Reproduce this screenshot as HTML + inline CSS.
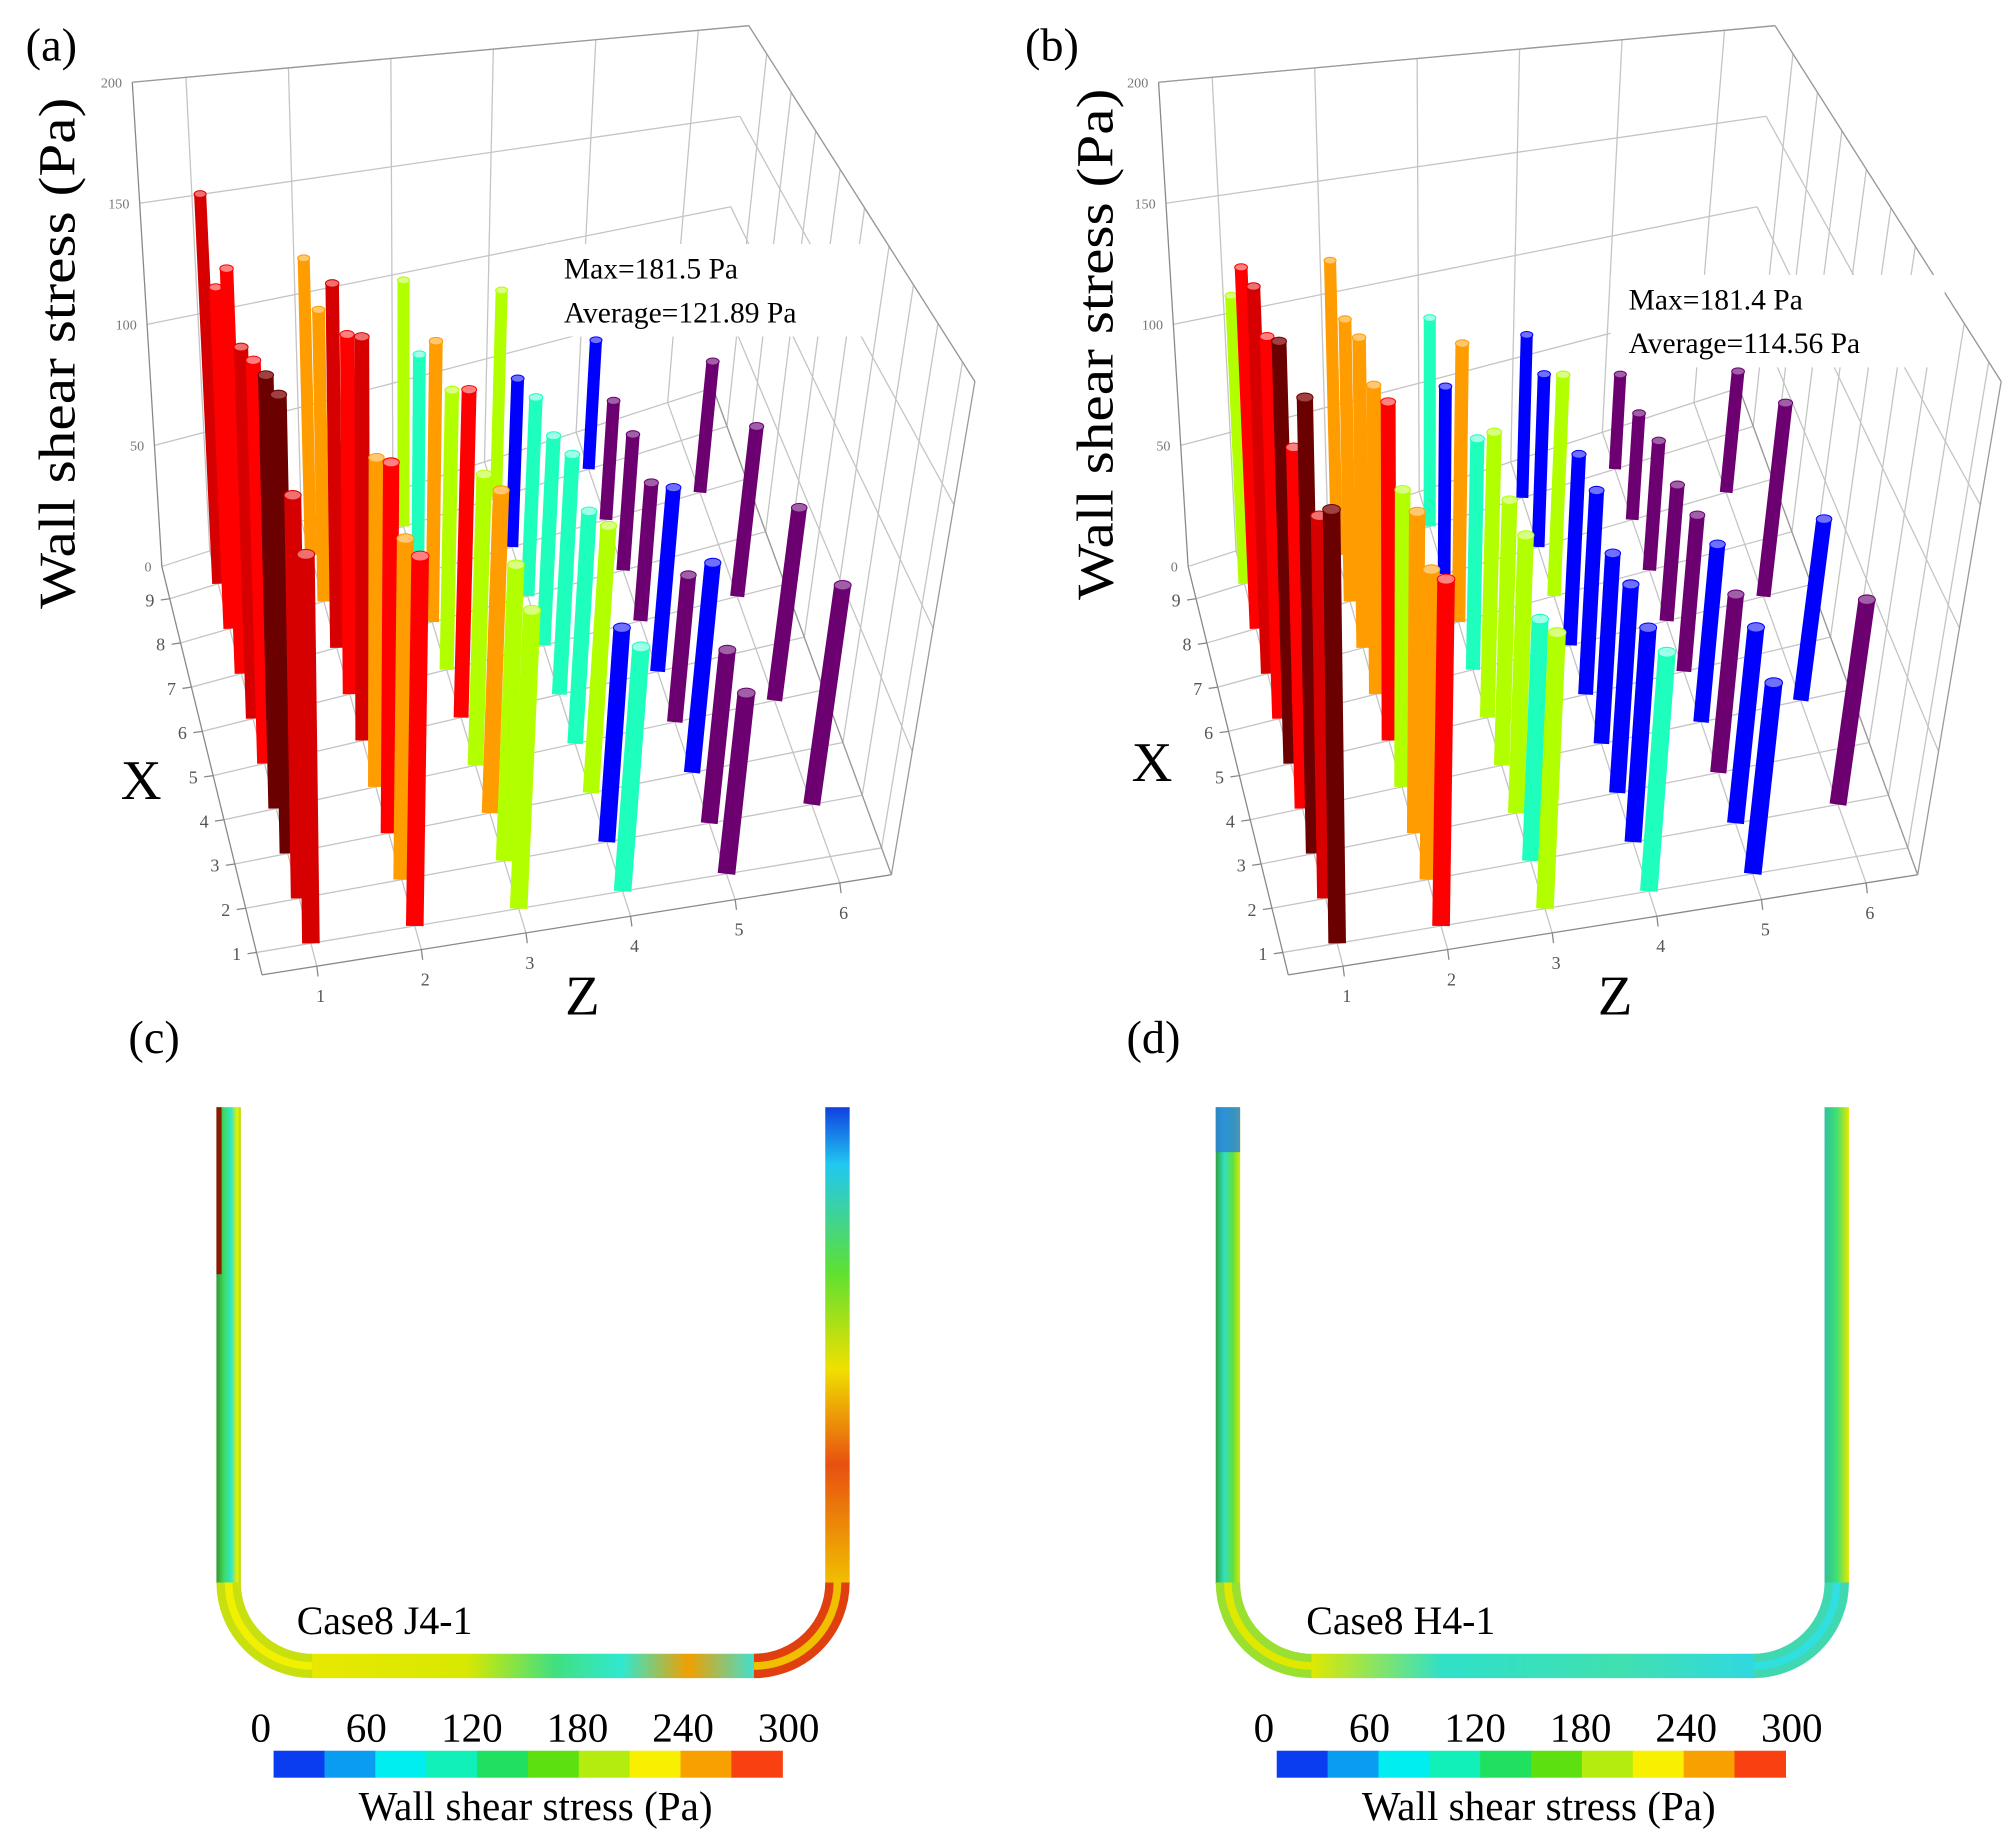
<!DOCTYPE html>
<html><head><meta charset="utf-8">
<style>
html,body{margin:0;padding:0;background:#fff;overflow:hidden;}
svg{display:block;font-family:"Liberation Serif",serif;}
</style></head>
<body>
<svg id="fig" width="2014" height="1845" viewBox="0 0 1568 1436.4" preserveAspectRatio="none" xmlns="http://www.w3.org/2000/svg">
<defs>
<linearGradient id="gcL" x1="0" x2="1" y1="0" y2="0"><stop offset="0" stop-color="#2e9a2e"/><stop offset="0.3" stop-color="#40d860"/><stop offset="0.6" stop-color="#30e8c8"/><stop offset="0.85" stop-color="#e8f000"/><stop offset="1" stop-color="#b8d800"/></linearGradient>
<linearGradient id="gcR" x1="0" x2="0" y1="0" y2="1"><stop offset="0" stop-color="#1040e0"/><stop offset="0.12" stop-color="#20c8f0"/><stop offset="0.35" stop-color="#60e030"/><stop offset="0.55" stop-color="#f0e000"/><stop offset="0.75" stop-color="#e85010"/><stop offset="1" stop-color="#f0c000"/></linearGradient>
<linearGradient id="gcB" x1="0" x2="1" y1="0" y2="0"><stop offset="0" stop-color="#e8e800"/><stop offset="0.35" stop-color="#d8e800"/><stop offset="0.55" stop-color="#40e080"/><stop offset="0.7" stop-color="#30e8d0"/><stop offset="0.85" stop-color="#f0a000"/><stop offset="1" stop-color="#40e0d0"/></linearGradient>
<linearGradient id="gdL" x1="0" x2="1" y1="0" y2="0"><stop offset="0" stop-color="#30a040"/><stop offset="0.35" stop-color="#30e0c0"/><stop offset="0.7" stop-color="#60e040"/><stop offset="1" stop-color="#d8e800"/></linearGradient>
<linearGradient id="gdR" x1="0" x2="1" y1="0" y2="0"><stop offset="0" stop-color="#30c0a0"/><stop offset="0.5" stop-color="#40e070"/><stop offset="1" stop-color="#e8e800"/></linearGradient>
<linearGradient id="gdB" x1="0" x2="1" y1="0" y2="0"><stop offset="0" stop-color="#e0e800"/><stop offset="0.3" stop-color="#30e0c8"/><stop offset="0.7" stop-color="#40e0b0"/><stop offset="1" stop-color="#30d8e0"/></linearGradient>
</defs>
<g id="layer"></g>
</svg>
<script>
// ---- data ----
const zCats = [1,2,3,4,5,6];
const xCats = [1,2,3,4,5,6,7,8,9];
const valueTicks = [0,50,100,150,200];
const A_z1 = [130,138,161,156,149,141,158,137,161];
const A_z2 = [128,121,135,123,155,142,148,122,128];
const A_z3 = [107,109,122,113,131,115,119,96,111];
const A_z4 = [91,82,105,94,100,90,88,77,98];
const A_z5 = [70,69,86,62,80,62,63,57,64];
const A_z6 = [null,91,null,85,null,80,null,66,null];
const B_z1 = [145,131,160,130,156,145,151,145,119];
const B_z2 = [120,110,117,111,130,122,126,118,127];
const B_z3 = [99,89,105,103,114,95,118,82,94];
const B_z4 = [89,82,82,77,85,82,98,79,77];
const B_z5 = [74,78,73,75,68,61,60,51,47];
const B_z6 = [null,85,null,80,null,91,null,61,null];
const A_c1 = ['dr','dr','mr','mr','r','dr','r','r','dr'];
const A_c2 = ['r','o','r','o','dr','r','dr','o','o'];
const A_c3 = ['y','y','o','y','r','y','o','c','y'];
const A_c4 = ['c','b','y','c','c','c','c','b','y'];
const A_c5 = ['p','p','b','p','b','p','p','p','b'];
const A_c6 = ['p','p','p','p','p','p','p','p','p'];
const B_c1 = ['mr','dr','mr','r','mr','r','dr','r','y'];
const B_c2 = ['r','o','o','y','r','o','o','o','o'];
const B_c3 = ['y','c','y','y','y','c','o','b','c'];
const B_c4 = ['c','b','b','b','b','b','y','b','b'];
const B_c5 = ['b','b','p','b','p','p','p','p','p'];
const B_c6 = ['p','p','p','b','p','p','p','p','p'];
const colorbarTicks = [0,60,120,180,240,300];
const colorbarColors = ['#0a3cf0','#0a9cf0','#00eef0','#10f0b8','#20e060','#5ce010','#b4ec10','#f8f000','#f8a000','#f84010'];

const PAL = {r:['#ff0000','#ff8080'], dr:['#d60000','#f07070'], mr:['#6a0000','#a04040'], o:['#ff9c00','#ffc870'], y:['#b2ff00','#d8ff80'], c:['#1effbe','#a0ffe8'], b:['#0000ff','#7070ff'], p:['#6c0070','#a060a8']};
const NS = 'http://www.w3.org/2000/svg';
const layer = document.getElementById('layer');
function mk(tag, attrs, parent){ const e=document.createElementNS(NS,tag); for(const k in attrs) e.setAttribute(k,attrs[k]); (parent||layer).appendChild(e); return e; }

const BL=[126,441], BR=[555,302], FR=[694,681], FL=[204,759];
const vBL=[-23,-377], vBR=[28,-282], vFR=[65,-384], vFL=[-12,-480];
function bil(a,b,c,d,s,t){ return [(1-s)*(1-t)*a[0]+s*(1-t)*b[0]+s*t*c[0]+(1-s)*t*d[0], (1-s)*(1-t)*a[1]+s*(1-t)*b[1]+s*t*c[1]+(1-s)*t*d[1]]; }
function sOf(z){ return 0.087+(z-1)*0.1662; }
function tOf(x){ return 0.079+(9-x)*0.10825; }
function proj(s,t,val,ox){ const f=bil(BL,BR,FR,FL,s,t), v=bil(vBL,vBR,vFR,vFL,s,t); return [f[0]+ox+v[0]*val/200, f[1]+v[1]*val/200]; }

function drawPanel(ox, rows, cols, info, pname){
  const g = mk('g',{});
  
  
  const grid = mk('g',{stroke:'#c4c4c4','stroke-width':'1',fill:'none'},g);
  
  
  function ln(p,q,col,w){ mk('line',{x1:p[0],y1:p[1],x2:q[0],y2:q[1],stroke:col||'#c4c4c4','stroke-width':w||1},grid); }
  valueTicks.forEach(v=>ln(proj(0,0,v,ox),proj(1,0,v,ox)));
  zCats.forEach(z=>ln(proj(sOf(z),0,0,ox),proj(sOf(z),0,200,ox)));
  valueTicks.forEach(v=>ln(proj(1,0,v,ox),proj(1,1,v,ox)));
  xCats.forEach(x=>ln(proj(1,tOf(x),0,ox),proj(1,tOf(x),200,ox)));
  xCats.forEach(x=>ln(proj(0,tOf(x),0,ox),proj(1,tOf(x),0,ox)));
  zCats.forEach(z=>ln(proj(sOf(z),0,0,ox),proj(sOf(z),1,0,ox)));
  ln(proj(0,0,0,ox),proj(0,0,200,ox),'#888');
  ln(proj(0,0,200,ox),proj(1,0,200,ox),'#999');
  ln(proj(1,0,200,ox),proj(1,1,200,ox),'#999');
  ln(proj(1,1,0,ox),proj(1,1,200,ox),'#999');
  ln(proj(0,0,0,ox),proj(0,1,0,ox),'#888');
  ln(proj(0,1,0,ox),proj(1,1,0,ox),'#888');
  ln(proj(1,0,0,ox),proj(1,1,0,ox),'#999');
  valueTicks.forEach(v=>{ const p=proj(0,0,v,ox);
    const t=mk('text',{x:p[0]-8,y:p[1]+4,'font-size':11,fill:'#777','text-anchor':'end'},g); t.textContent=v;
      });
  xCats.forEach(x=>{ const p=proj(0,tOf(x),0,ox);
    ln(p,[p[0]-7,p[1]+1],'#888');
    const t=mk('text',{x:p[0]-12,y:p[1]+6,'font-size':14,fill:'#555','text-anchor':'end'},g); t.textContent=x;
      });
  zCats.forEach(z=>{ const p=proj(sOf(z),1,0,ox);
    ln(p,[p[0]+1,p[1]+8],'#888');
    const t=mk('text',{x:p[0]+3,y:p[1]+28,'font-size':14,fill:'#555','text-anchor':'middle'},g); t.textContent=z;
      });
  const ib = mk('rect',{x:info.x,y:info.y,width:info.w,height:info.h,fill:'#fff'},g);
   
  const t1=mk('text',{x:info.x+14,y:info.y+27,'font-size':23,fill:'#000'},g); t1.textContent=info.l1;
   
  const t2=mk('text',{x:info.x+14,y:info.y+61,'font-size':23,fill:'#000'},g); t2.textContent=info.l2;
   
  const bars=[];
  rows.forEach((vals,zi)=>vals.forEach((v,xi)=>{ if(v!==null) bars.push({z:zCats[zi],x:xCats[xi],v:v,c:cols[zi][xi]}); }));
  bars.sort((a,b)=>(tOf(a.x)-tOf(b.x))||(sOf(a.z)-sOf(b.z)));
  const bg = mk('g',{},g);
  bars.forEach(b=>{
    const s=sOf(b.z), t=tOf(b.x);
    const p0=proj(s,t,0,ox), p1=proj(s,t,b.v,ox);
    const w=9+5*t;
    const col=PAL[b.c];
    const bar=mk('line',{x1:p0[0],y1:p0[1],x2:p1[0],y2:p1[1],stroke:col[0],'stroke-width':w},bg);
    
    
    const cap=mk('ellipse',{cx:p1[0],cy:p1[1],rx:w/2,ry:w*0.28,fill:col[1],stroke:col[0],'stroke-width':0.8},bg);
    
    
  });
}

drawPanel(0,[A_z1,A_z2,A_z3,A_z4,A_z5,A_z6],[A_c1,A_c2,A_c3,A_c4,A_c5,A_c6],{x:425,y:190,w:255,h:72,l1:'Max=181.5  Pa',l2:'Average=121.89  Pa'},'panel-a');
drawPanel(799,[B_z1,B_z2,B_z3,B_z4,B_z5,B_z6],[B_c1,B_c2,B_c3,B_c4,B_c5,B_c6],{x:1254,y:214,w:260,h:72,l1:'Max=181.4  Pa',l2:'Average=114.56  Pa'},'panel-b');

function colorbar(ox, pname){
  const g=mk('g',{});
  
  
  const x0=213+ox, x1=609+ox, w=(x1-x0)/colorbarColors.length;
  colorbarColors.forEach((c,i)=>{ const r=mk('rect',{x:x0+i*w,y:1363,width:w+0.5,height:21,fill:c},g);
      });
  const lo=colorbarTicks[0], hi=colorbarTicks[colorbarTicks.length-1];
  colorbarTicks.forEach(v=>{ const x=(x0-10)+(v-lo)/(hi-lo)*(x1-x0+15);
    const t=mk('text',{x:x,y:1356,'font-size':32,'text-anchor':'middle',fill:'#000'},g);
    t.textContent=v;
      });
  const tt=mk('text',{x:(x0+x1)/2+6,y:1417,'font-size':32,'text-anchor':'middle',fill:'#000'},g);
  tt.textContent='Wall shear stress (Pa)';
   
}
colorbar(0,'panel-c'); colorbar(781,'panel-d');
</script>

<script>
(function(){
  const NS='http://www.w3.org/2000/svg', L=document.getElementById('layer');
  function mk(tag,a,p){const e=document.createElementNS(NS,tag);for(const k in a)e.setAttribute(k,a[k]);(p||L).appendChild(e);return e;}
  function lab(txt,x,y,fs,name,extra){const t=mk('text',Object.assign({x:x,y:y,'font-size':fs,fill:'#000'},extra||{}));t.textContent=txt;
    return t;}
  lab('(a)',20,47,36,'panel-a-label'); lab('(b)',798,47,36,'panel-b-label');
  lab('(c)',100,820,36,'panel-c-label'); lab('(d)',877,820,36,'panel-d-label');
  lab('Wall  shear  stress  (Pa)',0,0,40,'y-axis-title',{transform:'translate(58,275) rotate(-90)','text-anchor':'middle',textLength:398,lengthAdjust:'spacingAndGlyphs'});
  lab('Wall  shear  stress  (Pa)',0,0,40,'y-axis-title',{transform:'translate(866,268) rotate(-90)','text-anchor':'middle',textLength:398,lengthAdjust:'spacingAndGlyphs'});
  lab('X',94,622,44,'x-axis-title'); lab('X',881,608,44,'x-axis-title');
  lab('Z',440,790,44,'z-axis-title'); lab('Z',1244,790,44,'z-axis-title');
  function pipe(ox,gl,gr,gb,name,hot){
    const g=mk('g',{});  
    const xl=178+ox, xr=652+ox, yb=1297, r=65, w=19;
    mk('rect',{x:xl-w/2,y:862,width:w,height:yb-r-862+1,fill:'url(#'+gl+')'},g);
    mk('rect',{x:xr-w/2,y:862,width:w,height:yb-r-862+1,fill:'url(#'+gr+')'},g);
    mk('rect',{x:xl+r-1,y:yb-w/2,width:xr-xl-2*r+2,height:w,fill:'url(#'+gb+')'},g);
    const dl='M'+xl+' '+(yb-r)+' A '+r+' '+r+' 0 0 0 '+(xl+r)+' '+yb;
    const dr='M'+(xr-r)+' '+yb+' A '+r+' '+r+' 0 0 0 '+xr+' '+(yb-r);
    mk('path',{d:dl,fill:'none',stroke:hot?'#c8e010':'#9ae030','stroke-width':w},g);
    mk('path',{d:dr,fill:'none',stroke:hot?'#e04010':'#40d8b0','stroke-width':w},g);
    mk('path',{d:dl,fill:'none',stroke:hot?'#f0f000':'#e0e800','stroke-width':6},g);
    mk('path',{d:dr,fill:'none',stroke:hot?'#f0c000':'#30e0e0','stroke-width':6},g);
    if(hot){ mk('rect',{x:xl-w/2,y:862,width:4,height:130,fill:'#8a1a00'},g); }
    else { mk('rect',{x:xl-w/2,y:862,width:w,height:35,fill:'#2a80e0',opacity:0.8},g); }
  }
  pipe(0,'gcL','gcR','gcB','pipe-contour-c',true);
  pipe(778,'gdL','gdR','gdB','pipe-contour-d',false);
  lab('Case8 J4-1',231,1272,31,'case-label-c'); lab('Case8 H4-1',1017,1272,31,'case-label-d');
})();
</script>
</body></html>
